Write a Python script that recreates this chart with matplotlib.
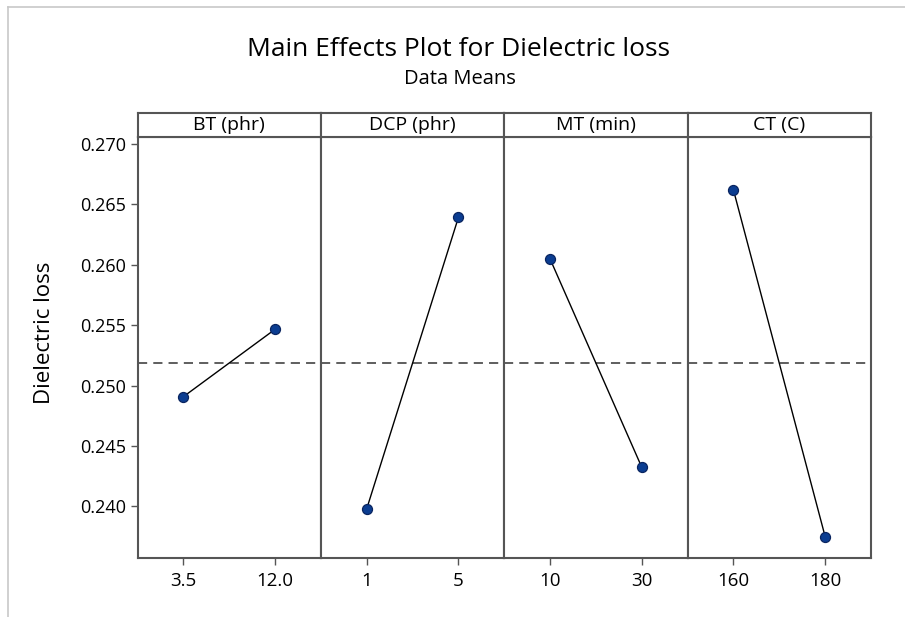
import matplotlib
matplotlib.use("Agg")
import matplotlib.pyplot as plt
from matplotlib.lines import Line2D
import numpy as np

plt.rcParams['font.family'] = ['Open Sans', 'DejaVu Sans']

factors = ["BT (phr)", "DCP (phr)", "MT (min)", "CT (C)"]
levels = [["3.5", "12.0"], ["1", "5"], ["10", "30"], ["160", "180"]]
means = [[0.24908, 0.25466], [0.23980, 0.26392], [0.26048, 0.24324], [0.26619, 0.23750]]
grand_mean = 0.25186

W, H = 905, 617
fig = plt.figure(figsize=(W / 100, H / 100), dpi=100)

# panel geometry in pixels
x0, x1 = 137.5, 871.0
y_top, y_strip, y_bot = 113.0, 137.0, 558.0
pw = (x1 - x0) / len(factors)

edge = '#555555'
axes = []
for i, name in enumerate(factors):
    left = (x0 + i * pw) / W
    ax = fig.add_axes([left, 1 - y_bot / H, pw / W, (y_bot - y_strip) / H],
                      sharey=axes[0] if axes else None)
    axes.append(ax)
    xs = np.arange(len(levels[i]))
    ax.axhline(grand_mean, color='#333333', lw=1.1, ls=(0, (6, 4)), zorder=1)
    ax.plot(xs, means[i], color='black', lw=1.0, zorder=2,
            marker='o', ms=7.2, mfc='#0b3d91', mec='#0a2560', mew=0.9)
    ax.set_xlim(-0.5, 1.5)
    ax.set_xticks(xs)
    ax.set_xticklabels(levels[i], fontsize=13.5)
    ax.tick_params(axis='x', direction='out', length=5, width=1, color=edge, pad=5)
    for sp in ax.spines.values():
        sp.set_color(edge)
        sp.set_linewidth(1.5)
    if i == 0:
        ax.set_yticks([0.240, 0.245, 0.250, 0.255, 0.260, 0.265, 0.270])
        ax.yaxis.set_major_formatter(plt.FuncFormatter(lambda v, p: f"{v:.3f}"))
        ax.tick_params(axis='y', direction='out', length=5, width=1, color=edge,
                       labelsize=13, pad=3)
    else:
        ax.tick_params(axis='y', left=False, labelleft=False)

    # strip with factor name
    sax = fig.add_axes([left, 1 - y_strip / H, pw / W, (y_strip - y_top) / H])
    sax.set_xticks([])
    sax.set_yticks([])
    for sp in sax.spines.values():
        sp.set_color(edge)
        sp.set_linewidth(1.5)
    sax.text(0.5, 0.5, name, ha='center', va='center', fontsize=14,
             transform=sax.transAxes)

axes[0].set_ylim(0.23573, 0.27058)

fig.text(45 / W, 1 - 333 / H, "Dielectric loss", rotation=90,
         ha='center', va='center', fontsize=16)
fig.text(458 / W, 1 - 50 / H, "Main Effects Plot for Dielectric loss",
         ha='center', va='center', fontsize=19)
fig.text(460 / W, 1 - 79 / H, "Data Means", ha='center', va='center', fontsize=14.5)

# light border along the top and left edges
fig.add_artist(Line2D([8 / W, 8 / W], [0, 1 - 7 / H], color='#c8c8c8', lw=1.2,
                      transform=fig.transFigure))
fig.add_artist(Line2D([8 / W, 1], [1 - 7 / H, 1 - 7 / H], color='#c8c8c8', lw=1.2,
                      transform=fig.transFigure))

fig.savefig("out.png", dpi=100, facecolor='white')
